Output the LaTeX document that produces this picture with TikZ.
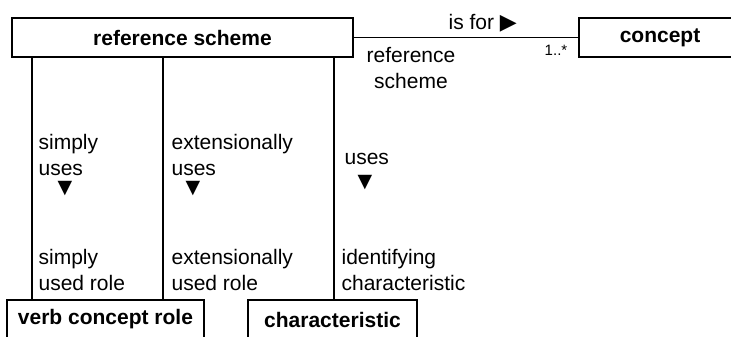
\documentclass[tikz,border=0pt]{standalone}
\usepackage{fontspec}
\setmainfont{Liberation Sans}
\newfontfamily\trifont{DejaVu Sans}
\usepackage{tikz}

\begin{document}
\begin{tikzpicture} [x = 1pt, y = -1pt, line width = 1.2pt,
        every node/.style = {font = \fontsize{21}{26}\selectfont},
        classbox/.style = {draw, minimum height = 39pt, inner sep = 0pt,
            font = \fontsize{21}{26}\selectfont\bfseries},
        rolename/.style = {anchor = west, align = left, inner sep = 0pt},
        marker/.style = {inner sep = 0pt, font = \fontsize{19}{19}\selectfont\trifont}]
        \useasboundingbox (0, 0) rectangle (731, 337);
        % classes
        \node[classbox, minimum width = 341pt] (scheme) at (182.5, 37.5) {reference scheme};
        \node[classbox, minimum width = 162pt] (concept) at (660, 37.5) {concept};
        \node[classbox, minimum width = 197pt] (vcrole) at (105.5, 319.5) {verb concept role};
        \node[classbox, minimum width = 169pt] (charac) at (332.5, 319.5) {characteristic};
        % associations
        \draw (scheme.east) -- (concept.west);
        \draw (32, 0 |- scheme.south) -- (32, 0 |- vcrole.north);
        \draw (163, 0 |- scheme.south) -- (163, 0 |- vcrole.north);
        \draw (334, 0 |- scheme.south) -- (334, 0 |- charac.north);
        % role names
        \node[anchor = west, inner sep = 0pt] (isfor) at (448, 23) {is for {\trifont\fontsize{22}{22}\selectfont ▶}};
        \node[align = center, inner sep = 0pt] (schemerole) at (411, 68) {reference\\scheme};
        \node[inner sep = 0pt, font = \fontsize{15}{15}\selectfont] (mult) at (556, 50) {1..*};
        \node[rolename] (simplyuses) at (38, 154.5) {simply\\uses};
        \node[rolename] (extuses) at (171, 154.5) {extensionally\\uses};
        \node[rolename] (uses) at (344, 159) {uses};
        \node[rolename] (simplyrole) at (38, 269.5) {simply\\used role};
        \node[rolename] (extrole) at (171, 269.5) {extensionally\\used role};
        \node[rolename] (identrole) at (341, 269.5) {identifying\\characteristic};
        % reading directions
        \node[marker] (simplytri) at (65, 189) {▼};
        \node[marker] (exttri) at (193, 189) {▼};
        \node[marker] (usestri) at (365, 183) {▼};
\end{tikzpicture}
\end{document}
